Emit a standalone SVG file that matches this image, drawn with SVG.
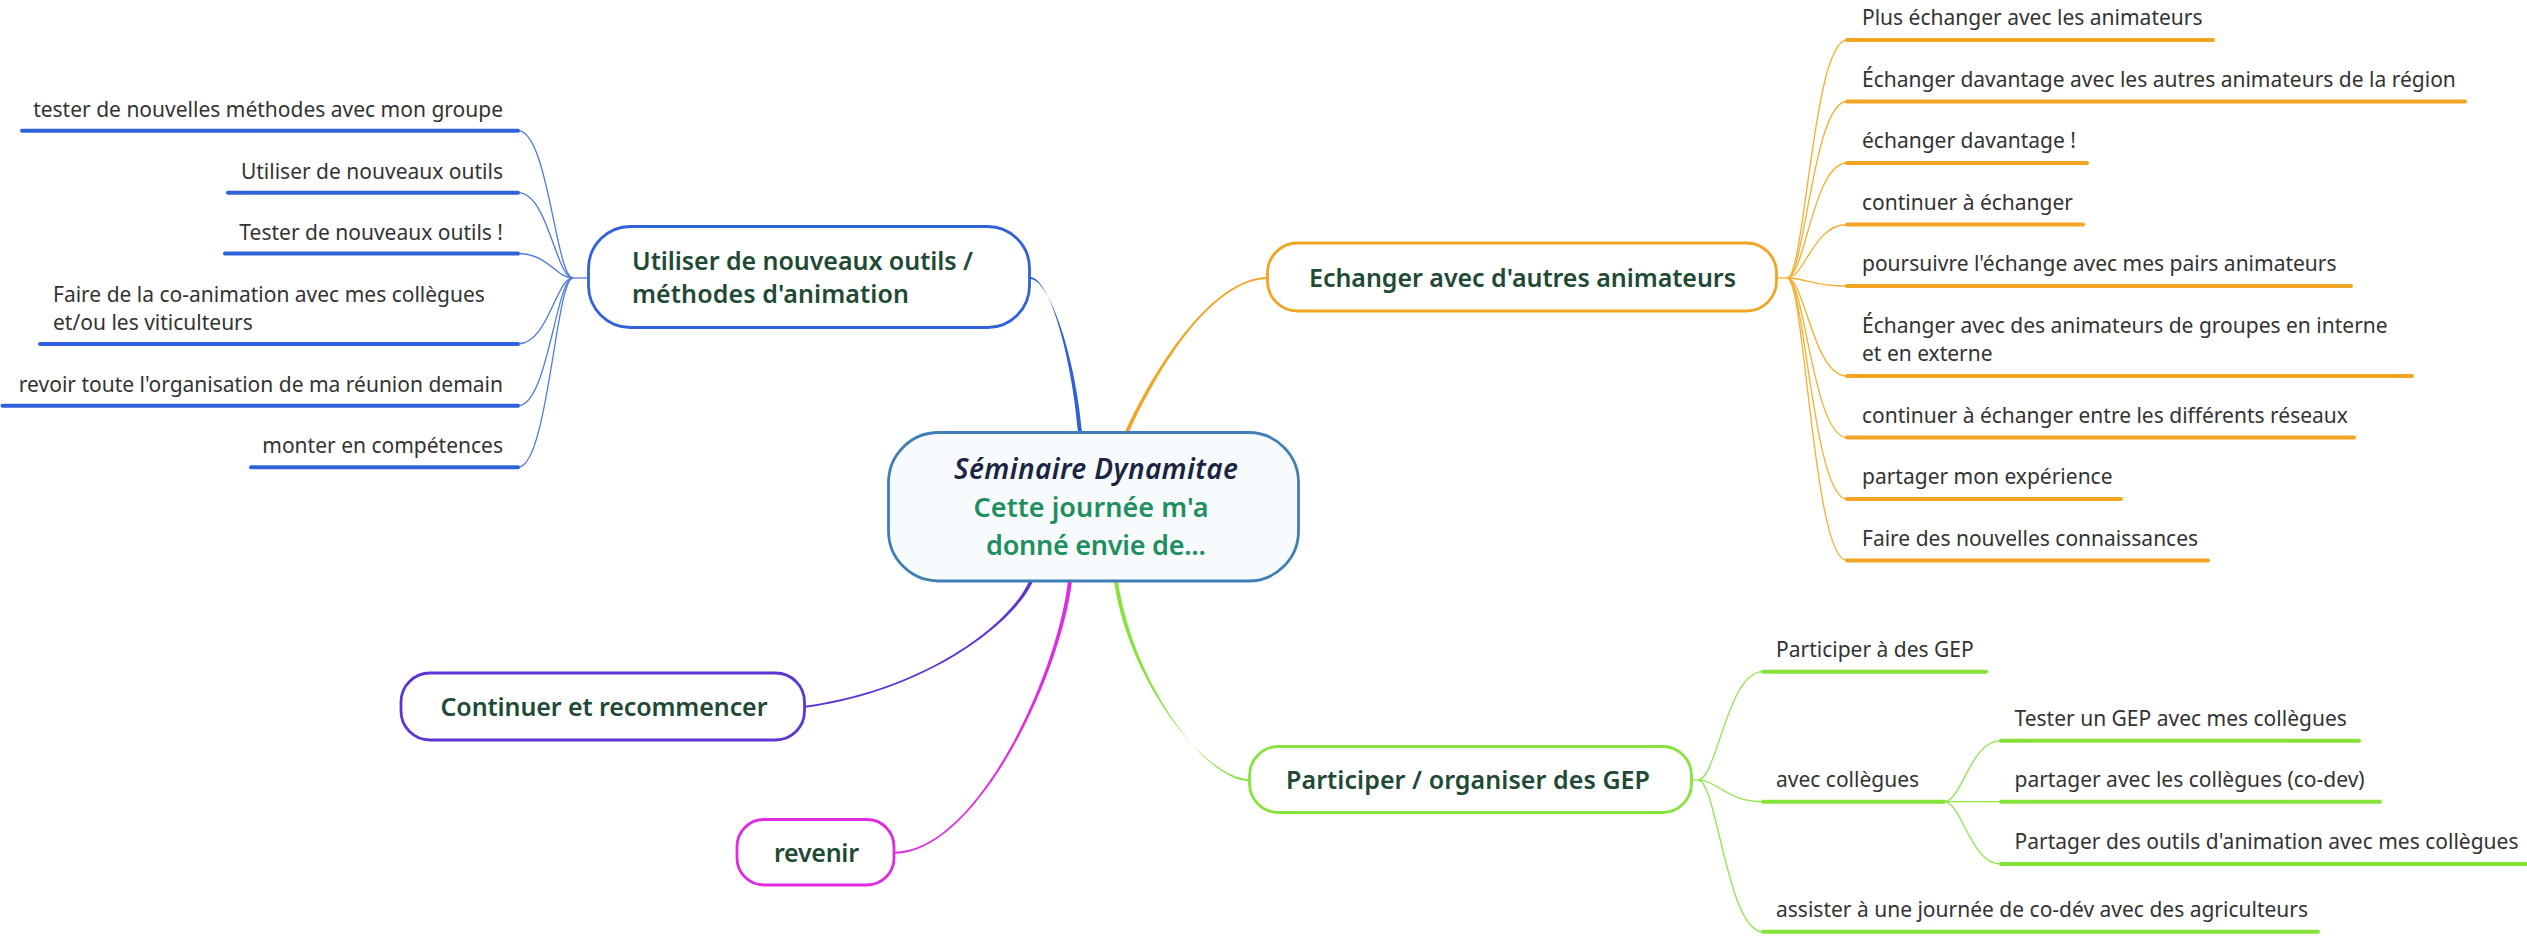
<svg xmlns="http://www.w3.org/2000/svg" width="2527" height="937" viewBox="0 0 2527 937">
<style>
  .leaf { font-family: "Noto Sans", "Open Sans", sans-serif; font-size: 21px; fill: #333333; }
  .ntext { font-family: "Noto Sans", "Open Sans", sans-serif; font-size: 25px; font-weight: 600; fill: #1e4a36; }
  .title { font-family: "Noto Sans", "Open Sans", sans-serif; font-size: 28px; font-weight: 600; font-style: italic; fill: #1c2444; }
  .sub { font-family: "Noto Sans", "Open Sans", sans-serif; font-size: 27px; font-weight: 600; fill: #1f8f5f; }
  .ul { stroke-width: 4; stroke-linecap: round; fill: none; }
  .lc { stroke-width: 1.3; fill: none; }
  .node { fill: #ffffff; stroke-width: 2.8; }
  .blue { stroke: #2f62d8; }
  .orange { stroke: #f2a524; }
  .green { stroke: #86e33a; }
  .purple { stroke: #5b35d5; }
  .magenta { stroke: #e02ce0; }
</style>
<rect width="2527" height="937" fill="#ffffff"/>

<g id="connectors">
  <!-- main tapered connectors -->
  <path d="M 1078 432 C 1072 360 1050 277 1030 277 L 1030 279 C 1050 279 1076 360 1082 432 Z" fill="#2f62d8"/>
  <path d="M 1125 432 C 1158 360 1215 277 1268 277 L 1268 279 C 1215 279 1162 360 1129 432 Z" fill="#f2a524"/>
  <path d="M 1029 581 C 1013 620 930 689 804.5 705.8 L 804.5 707.8 C 930 691 1017 620 1033 581 Z" fill="#5b35d5"/>
  <path d="M 1068 581 C 1056 680 975 851.8 894 851.8 L 894 853.8 C 975 853.8 1060 680 1072 581 Z" fill="#e02ce0"/>
  <path d="M 1114 581 C 1128 680 1205 779 1249 779 L 1249 781 C 1205 781 1132 680 1118 581 Z" fill="#86e33a"/>

  <!-- blue leaf connectors -->
  <g class="lc" stroke="#4f78e0">
    <path d="M 588 278 L 573 278"/>
    <path d="M 573 278 C 556 278 548 130.7 518 130.7"/>
    <path d="M 573 278 C 556 278 548 192.7 518 192.7"/>
    <path d="M 573 278 C 556 278 548 253.5 518 253.5"/>
    <path d="M 573 278 C 556 278 548 344 518 344"/>
    <path d="M 573 278 C 556 278 548 405.7 518 405.7"/>
    <path d="M 573 278 C 556 278 548 467.3 518 467.3"/>
  </g>
  <!-- orange leaf connectors -->
  <g class="lc" stroke="#f2b030">
    <path d="M 1777 278 L 1787 278"/>
    <path d="M 1787 278 C 1805 278 1813 40 1847 40"/>
    <path d="M 1787 278 C 1805 278 1813 101.5 1847 101.5"/>
    <path d="M 1787 278 C 1805 278 1813 163 1847 163"/>
    <path d="M 1787 278 C 1805 278 1813 224.5 1847 224.5"/>
    <path d="M 1787 278 C 1805 278 1813 286 1847 286"/>
    <path d="M 1787 278 C 1805 278 1813 376 1847 376"/>
    <path d="M 1787 278 C 1805 278 1813 437.5 1847 437.5"/>
    <path d="M 1787 278 C 1805 278 1813 499 1847 499"/>
    <path d="M 1787 278 C 1805 278 1813 560.5 1847 560.5"/>
  </g>
  <!-- green leaf connectors -->
  <g class="lc" stroke="#8fe64a">
    <path d="M 1692 780 L 1698 780"/>
    <path d="M 1698 780 C 1717 780 1727 671.7 1763 671.7"/>
    <path d="M 1698 780 C 1717 780 1727 801.7 1763 801.7"/>
    <path d="M 1698 780 C 1717 780 1727 931.7 1763 931.7"/>
    <path d="M 1944 801.7 C 1962 801.7 1970 740.7 2001 740.7"/>
    <path d="M 1944 801.7 L 2001 801.7"/>
    <path d="M 1944 801.7 C 1962 801.7 1970 864 2001 864"/>
  </g>
</g>

<g id="center">
  <rect x="888.5" y="432.5" width="410" height="148.5" rx="50" fill="#f7fbfd" stroke="#3f7fb5" stroke-width="2.8"/>
  <text class="title" x="1096" y="479" text-anchor="middle" textLength="284">Séminaire Dynamitae</text>
  <text class="sub" x="1091" y="517" text-anchor="middle" textLength="235">Cette journée m'a</text>
  <text class="sub" x="1096" y="555" text-anchor="middle" textLength="220">donné envie de...</text>
</g>

<g id="n-outils">
  <rect class="node blue" x="588.5" y="226.5" width="441" height="101" rx="42"/>
  <text class="ntext" x="632" y="270" textLength="341">Utiliser de nouveaux outils /</text>
  <text class="ntext" x="632" y="303" textLength="277">méthodes d'animation</text>
</g>
<g id="l-outils-1">
  <text class="leaf" x="503" y="116.7" text-anchor="end">tester de nouvelles méthodes avec mon groupe</text>
  <line class="ul blue" x1="22" y1="130.7" x2="518" y2="130.7"/>
</g>
<g id="l-outils-2">
  <text class="leaf" x="503" y="178.7" text-anchor="end">Utiliser de nouveaux outils</text>
  <line class="ul blue" x1="228" y1="192.7" x2="518" y2="192.7"/>
</g>
<g id="l-outils-3">
  <text class="leaf" x="503" y="239.5" text-anchor="end">Tester de nouveaux outils !</text>
  <line class="ul blue" x1="225" y1="253.5" x2="518" y2="253.5"/>
</g>
<g id="l-outils-4">
  <text class="leaf" x="53" y="301.5">Faire de la co-animation avec mes collègues</text>
  <text class="leaf" x="53" y="330">et/ou les viticulteurs</text>
  <line class="ul blue" x1="40" y1="344" x2="518" y2="344"/>
</g>
<g id="l-outils-5">
  <text class="leaf" x="503" y="391.7" text-anchor="end">revoir toute l'organisation de ma réunion demain</text>
  <line class="ul blue" x1="2.5" y1="405.7" x2="518" y2="405.7"/>
</g>
<g id="l-outils-6">
  <text class="leaf" x="503" y="453.3" text-anchor="end">monter en compétences</text>
  <line class="ul blue" x1="251" y1="467.3" x2="518" y2="467.3"/>
</g>

<g id="n-echanger">
  <rect class="node orange" x="1267.5" y="243" width="509" height="68" rx="30"/>
  <text class="ntext" x="1522.5" y="287" text-anchor="middle" textLength="427">Echanger avec d'autres animateurs</text>
</g>
<g id="l-ech-1">
  <text class="leaf" x="1862" y="25">Plus échanger avec les animateurs</text>
  <line class="ul orange" x1="1847" y1="40" x2="2213" y2="40"/>
</g>
<g id="l-ech-2">
  <text class="leaf" x="1862" y="86.5">Échanger davantage avec les autres animateurs de la région</text>
  <line class="ul orange" x1="1847" y1="101.5" x2="2465" y2="101.5"/>
</g>
<g id="l-ech-3">
  <text class="leaf" x="1862" y="148">échanger davantage !</text>
  <line class="ul orange" x1="1847" y1="163" x2="2087" y2="163"/>
</g>
<g id="l-ech-4">
  <text class="leaf" x="1862" y="209.5">continuer à échanger</text>
  <line class="ul orange" x1="1847" y1="224.5" x2="2083" y2="224.5"/>
</g>
<g id="l-ech-5">
  <text class="leaf" x="1862" y="271">poursuivre l'échange avec mes pairs animateurs</text>
  <line class="ul orange" x1="1847" y1="286" x2="2351" y2="286"/>
</g>
<g id="l-ech-6">
  <text class="leaf" x="1862" y="332.5">Échanger avec des animateurs de groupes en interne</text>
  <text class="leaf" x="1862" y="361">et en externe</text>
  <line class="ul orange" x1="1847" y1="376" x2="2412" y2="376"/>
</g>
<g id="l-ech-7">
  <text class="leaf" x="1862" y="422.5">continuer à échanger entre les différents réseaux</text>
  <line class="ul orange" x1="1847" y1="437.5" x2="2354" y2="437.5"/>
</g>
<g id="l-ech-8">
  <text class="leaf" x="1862" y="484">partager mon expérience</text>
  <line class="ul orange" x1="1847" y1="499" x2="2121" y2="499"/>
</g>
<g id="l-ech-9">
  <text class="leaf" x="1862" y="545.5">Faire des nouvelles connaissances</text>
  <line class="ul orange" x1="1847" y1="560.5" x2="2208" y2="560.5"/>
</g>

<g id="n-continuer">
  <rect class="node purple" x="401" y="673" width="403.5" height="67" rx="29"/>
  <text class="ntext" x="604" y="716" text-anchor="middle" textLength="327">Continuer et recommencer</text>
</g>

<g id="n-revenir">
  <rect class="node magenta" x="737" y="819.5" width="157" height="65.5" rx="27"/>
  <text class="ntext" x="816.5" y="862" text-anchor="middle" textLength="85">revenir</text>
</g>

<g id="n-gep">
  <rect class="node green" x="1249.5" y="746.5" width="442" height="66" rx="29"/>
  <text class="ntext" x="1468" y="789" text-anchor="middle" textLength="364">Participer / organiser des GEP</text>
</g>
<g id="l-gep-1">
  <text class="leaf" x="1776" y="657">Participer à des GEP</text>
  <line class="ul green" x1="1763" y1="671.7" x2="1986" y2="671.7"/>
</g>
<g id="l-gep-2">
  <text class="leaf" x="1776" y="787">avec collègues</text>
  <line class="ul green" x1="1763" y1="801.7" x2="1944" y2="801.7"/>
</g>
<g id="l-gep-2a">
  <text class="leaf" x="2014.5" y="726">Tester un GEP avec mes collègues</text>
  <line class="ul green" x1="2001" y1="740.7" x2="2359" y2="740.7"/>
</g>
<g id="l-gep-2b">
  <text class="leaf" x="2014.5" y="787">partager avec les collègues (co-dev)</text>
  <line class="ul green" x1="2001" y1="801.7" x2="2380" y2="801.7"/>
</g>
<g id="l-gep-2c">
  <text class="leaf" x="2014.5" y="849">Partager des outils d'animation avec mes collègues</text>
  <line class="ul green" x1="2001" y1="864" x2="2530" y2="864"/>
</g>
<g id="l-gep-3">
  <text class="leaf" x="1776" y="917">assister à une journée de co-dév avec des agriculteurs</text>
  <line class="ul green" x1="1763" y1="931.7" x2="2318" y2="931.7"/>
</g>
</svg>
